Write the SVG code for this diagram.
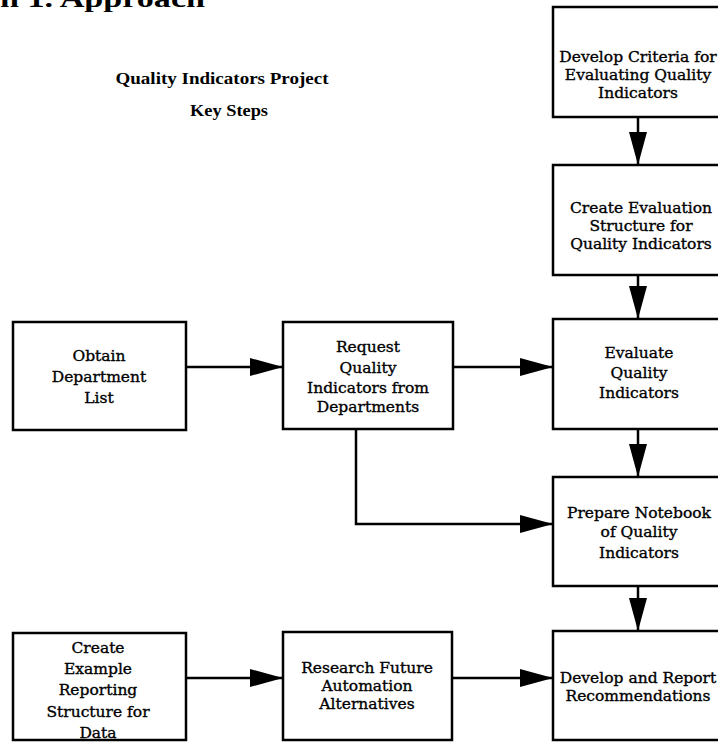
<svg xmlns="http://www.w3.org/2000/svg" width="718" height="742" viewBox="0 0 718 742">
<style>
.box{fill:#fff;stroke:#000;stroke-width:2.5}
.t{font-family:"DejaVu Serif","Liberation Serif",serif;font-size:15.5px;text-anchor:middle;fill:#000;stroke:#000;stroke-width:0.35}
.h{font-family:"Liberation Serif",serif;font-weight:bold;text-anchor:middle;fill:#000}
.c{fill:none;stroke:#000;stroke-width:2.5}
</style>
<defs>
<marker id="ah" markerUnits="userSpaceOnUse" markerWidth="34" markerHeight="18" refX="33" refY="9" orient="auto">
<path d="M0,0 L33,9 L0,18 Z" fill="#000"/>
</marker>
</defs>
<rect width="718" height="742" fill="#fff"/>
<text x="0" y="7" font-family="Liberation Serif,serif" font-weight="bold" font-size="26" textLength="205" lengthAdjust="spacingAndGlyphs">n 1.  Approach</text>
<g id="title">
<text class="h" x="222" y="84" font-size="17" textLength="213" lengthAdjust="spacingAndGlyphs">Quality Indicators Project</text>
<text class="h" x="229" y="116" font-size="17" textLength="78" lengthAdjust="spacingAndGlyphs">Key Steps</text>
</g>
<g id="connectors">
<line class="c" x1="638" y1="117" x2="638" y2="165" marker-end="url(#ah)"/>
<line class="c" x1="638" y1="275" x2="638" y2="319" marker-end="url(#ah)"/>
<line class="c" x1="638" y1="429" x2="638" y2="477" marker-end="url(#ah)"/>
<line class="c" x1="638" y1="586" x2="638" y2="631" marker-end="url(#ah)"/>
<line class="c" x1="186" y1="367" x2="283" y2="367" marker-end="url(#ah)"/>
<line class="c" x1="453" y1="367" x2="553" y2="367" marker-end="url(#ah)"/>
<path class="c" d="M356,429 V524 H553" marker-end="url(#ah)"/>
<line class="c" x1="186" y1="678" x2="283" y2="678" marker-end="url(#ah)"/>
<line class="c" x1="452" y1="678" x2="553" y2="678" marker-end="url(#ah)"/>
</g>
<g id="criteria">
<rect class="box" x="553" y="7" width="175" height="110"/>
<text class="t" x="638" y="62">Develop Criteria for</text>
<text class="t" x="638" y="80">Evaluating Quality</text>
<text class="t" x="638" y="98">Indicators</text>
</g>
<g id="structure">
<rect class="box" x="553" y="165" width="175" height="110"/>
<text class="t" x="641" y="213">Create Evaluation</text>
<text class="t" x="641" y="231">Structure for</text>
<text class="t" x="641" y="249">Quality Indicators</text>
</g>
<g id="evaluate">
<rect class="box" x="553" y="319" width="175" height="110"/>
<text class="t" x="639" y="358">Evaluate</text>
<text class="t" x="639" y="378">Quality</text>
<text class="t" x="639" y="398">Indicators</text>
</g>
<g id="notebook">
<rect class="box" x="553" y="477" width="175" height="109"/>
<text class="t" x="639" y="518">Prepare Notebook</text>
<text class="t" x="639" y="537">of Quality</text>
<text class="t" x="639" y="558">Indicators</text>
</g>
<g id="report">
<rect class="box" x="553" y="631" width="175" height="109"/>
<text class="t" x="638" y="683">Develop and Report</text>
<text class="t" x="638" y="701">Recommendations</text>
</g>
<g id="obtain">
<rect class="box" x="13" y="322" width="173" height="108"/>
<text class="t" x="99" y="361">Obtain</text>
<text class="t" x="99" y="382">Department</text>
<text class="t" x="99" y="403">List</text>
</g>
<g id="request">
<rect class="box" x="283" y="322" width="170" height="107"/>
<text class="t" x="368" y="352">Request</text>
<text class="t" x="368" y="373">Quality</text>
<text class="t" x="368" y="393">Indicators from</text>
<text class="t" x="368" y="412">Departments</text>
</g>
<g id="example">
<rect class="box" x="13" y="633" width="173" height="107"/>
<text class="t" x="98" y="653">Create</text>
<text class="t" x="98" y="674">Example</text>
<text class="t" x="98" y="695">Reporting</text>
<text class="t" x="98" y="717">Structure for</text>
<text class="t" x="98" y="738">Data</text>
</g>
<g id="research">
<rect class="box" x="283" y="632" width="169" height="108"/>
<text class="t" x="367" y="673">Research Future</text>
<text class="t" x="367" y="691">Automation</text>
<text class="t" x="367" y="709">Alternatives</text>
</g>
</svg>
